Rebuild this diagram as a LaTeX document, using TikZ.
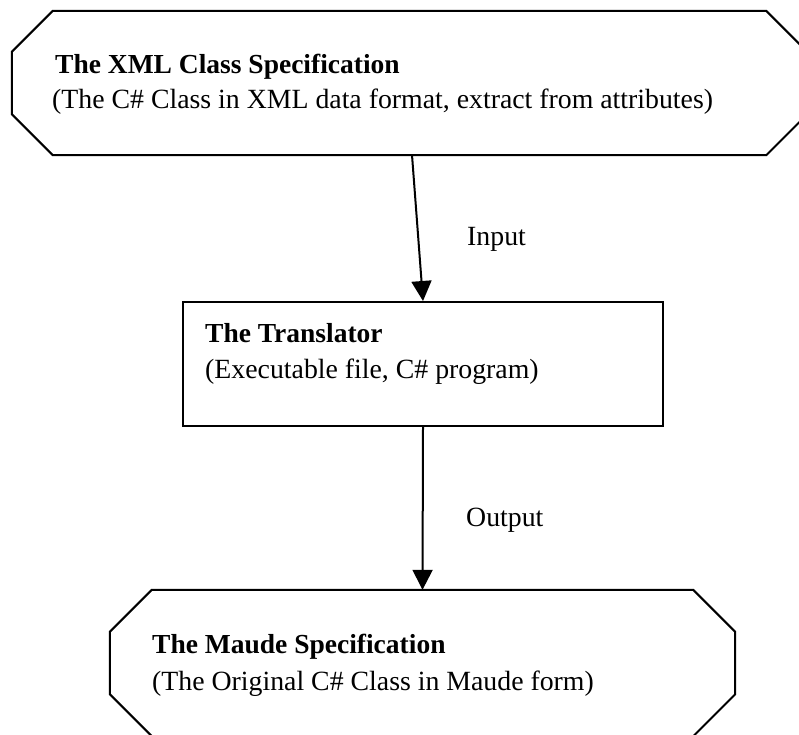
\documentclass[tikz,border=0pt]{standalone}
\usepackage{fontspec}
\setmainfont{Liberation Serif}
\usetikzlibrary{arrows.meta}

\tikzset{
  frame/.style={draw=none, minimum width=#1, inner sep=0pt},
  outline/.style={line width=2pt, line join=miter},
  flow/.style={line width=2pt, -{Triangle[width=20pt,length=20pt]}},
  txt/.style={anchor=base west, inner sep=0pt, font=\fontsize{27.8}{33}\selectfont},
  ttl/.style={txt, font=\fontsize{27.5}{33}\selectfont\bfseries},
}

\begin{document}
\begin{tikzpicture}[x=1pt,y=-1pt]
\useasboundingbox (0,0) rectangle (799,734);
\clip (0,0) rectangle (799,734);

% input specification (octagon)
\node[frame=795pt, minimum height=144pt] (xml) at (409.5,83) {};
\draw[outline] ([xshift=41pt]xml.north west) -- ([xshift=-41pt]xml.north east)
  -- ([yshift=-41pt]xml.north east) -- ([yshift=41pt]xml.south east)
  -- ([xshift=-41pt]xml.south east) -- ([xshift=41pt]xml.south west)
  -- ([yshift=41pt]xml.south west) -- ([yshift=-41pt]xml.north west) -- cycle;
\node[ttl] (xmlttl) at (55,73) {The XML Class Specification};
\node[txt] (xmlsub) at (52,108) {(The C\# Class in XML data format, extract from attributes)};

% translator (rectangle)
\node[draw, line width=2pt, minimum width=480pt, minimum height=124pt, inner sep=0pt] (trans) at (423,364) {};
\node[ttl] (transttl) at (205,342) {The Translator};
\node[txt] (transsub) at (205,378) {(Executable file, C\# program)};

% output specification (octagon)
\node[frame=625pt, minimum height=146pt] (maude) at (422.5,663) {};
\draw[outline] ([xshift=42pt]maude.north west) -- ([xshift=-42pt]maude.north east)
  -- ([yshift=-42pt]maude.north east) -- ([yshift=42pt]maude.south east)
  -- ([xshift=-42pt]maude.south east) -- ([xshift=42pt]maude.south west)
  -- ([yshift=42pt]maude.south west) -- ([yshift=-42pt]maude.north west) -- cycle;
\node[ttl] (maudettl) at (152,653) {The Maude Specification};
\node[txt] (maudesub) at (152,690) {(The Original C\# Class in Maude form)};

% connectors
\coordinate (xmlout) at (412,155);
\draw[flow] (xmlout) -- (trans.north);
\draw[flow] (trans.south) -- (maude.north);
\node[txt] (inlbl) at (467,245) {Input};
\node[txt] (outlbl) at (466,526) {Output};
\end{tikzpicture}
\end{document}
